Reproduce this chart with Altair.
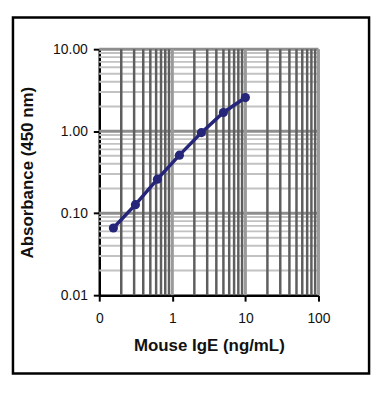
import altair as alt
import pandas as pd

# Data
conc = [0.156, 0.3125, 0.625, 1.25, 2.5, 5, 10]
absorbance = [0.066, 0.127, 0.26, 0.51, 0.96, 1.69, 2.57]

# Grid positions (log-scale minor/major ticks)
x_minor = [0.2, 0.3, 0.4, 0.5, 0.6, 0.7, 0.8, 0.9,
           2, 3, 4, 5, 6, 7, 8, 9,
           20, 30, 40, 50, 60, 70, 80, 90]
x_major = [1, 10, 100]
y_minor = [0.02, 0.03, 0.04, 0.05, 0.06, 0.07, 0.08, 0.09,
           0.2, 0.3, 0.4, 0.5, 0.6, 0.7, 0.8, 0.9,
           2, 3, 4, 5, 6, 7, 8, 9]
y_major = [0.1, 1, 10]

x_ticks = [0.1, 1, 10, 100]
y_ticks = [0.01, 0.1, 1, 10]

df = pd.DataFrame({"x": conc, "y": absorbance})

xscale = alt.Scale(type="log", domain=[0.1, 100], nice=False)
yscale = alt.Scale(type="log", domain=[0.01, 10], nice=False)

xaxis = alt.Axis(values=x_ticks, format=".0f", title="Mouse IgE (ng/mL)",
                 grid=False, labelFlush=False, labelOverlap=False)
yaxis = alt.Axis(values=y_ticks, format=".2f", title="Absorbance (450 nm)",
                 grid=False, labelOverlap=False)

X = alt.X("x:Q", scale=xscale, axis=xaxis)
Y = alt.Y("y:Q", scale=yscale, axis=yaxis)

hminor = alt.Chart(pd.DataFrame({"y": y_minor})).mark_rule(
    color="#c2c2c2", strokeWidth=2
).encode(y=Y)

hmajor = alt.Chart(pd.DataFrame({"y": y_major})).mark_rule(
    color="#8e8e8e", strokeWidth=3
).encode(y=Y)

vminor = alt.Chart(pd.DataFrame({"x": x_minor})).mark_rule(
    color="#5e5e5e", strokeWidth=2.5
).encode(x=X)

vmajor = alt.Chart(pd.DataFrame({"x": x_major})).mark_rule(
    color="#9a9a9a", strokeWidth=3
).encode(x=X)

base = alt.Chart(df).encode(x=X, y=Y)
line = base.mark_line(color="#25257a", strokeWidth=3.5)
pts = base.mark_point(filled=True, color="#25257a", size=85, opacity=1, shape="circle")

frame = alt.Chart(alt.Data(values=[{}])).mark_rect(
    fill=None, stroke="black", strokeWidth=2.5
).encode(
    x=alt.value(-87), x2=alt.value(272),
    y=alt.value(-32), y2=alt.value(327),
)

chart = alt.layer(hminor, hmajor, vminor, vmajor, line, pts, frame).properties(
    width=221, height=248,
    padding={"left": 92, "top": 40, "right": 60, "bottom": 84},
    autosize=alt.AutoSizeParams(type="none"),
).configure_view(strokeWidth=0).configure_axis(
    domainColor="black", domainWidth=2.5,
    tickColor="black", tickWidth=2, tickSize=6,
    labelFont="Liberation Sans", labelFontSize=14, labelColor="#111111",
    titleFont="Liberation Sans", titleFontSize=17, titleFontWeight="bold",
    titleColor="#111111",
).configure_axisY(labelPadding=6, titlePadding=16).configure_axisX(
    labelPadding=11, titlePadding=12
)

chart.save("out.html", embed_options={"renderer": "svg", "actions": False})
